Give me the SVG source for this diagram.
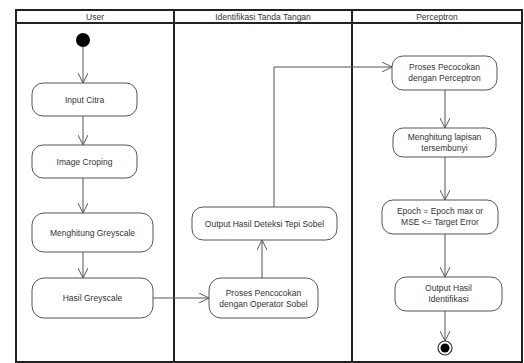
<svg xmlns="http://www.w3.org/2000/svg" width="524" height="363" viewBox="0 0 524 363">
<style>
.lane{fill:none;stroke:#222;stroke-width:2}
.hdr{font-family:"Liberation Sans",Arial,sans-serif;font-size:8.5px;fill:#333;text-anchor:middle}
.box{fill:#fff;stroke:#555;stroke-width:1}
.t{font-family:"Liberation Sans",Arial,sans-serif;font-size:8.5px;fill:#333;text-anchor:middle}
.c{fill:none;stroke:#555;stroke-width:1}
</style>
<defs>
<marker id="arr" viewBox="0 0 10 10" refX="10" refY="5" markerWidth="10" markerHeight="10" markerUnits="userSpaceOnUse" orient="auto">
<path d="M0,0 L10,5 L0,10" fill="none" stroke="#555" stroke-width="1"/>
</marker>
</defs>
<rect width="524" height="363" fill="#fff"/>
<g id="swimlanes">
<rect class="lane" x="16" y="10" width="506" height="352"/>
<line class="lane" x1="16" y1="23" x2="522" y2="23"/>
<line class="lane" x1="174" y1="10" x2="174" y2="362"/>
<line class="lane" x1="352" y1="10" x2="352" y2="362"/>
<text class="hdr" x="95" y="19.5">User</text>
<text class="hdr" x="263" y="19.5">Identifikasi Tanda Tangan</text>
<text class="hdr" x="437" y="19.5">Perceptron</text>
</g>
<g id="connectors">
<line class="c" x1="83" y1="47" x2="83" y2="83" marker-end="url(#arr)"/>
<line class="c" x1="83" y1="116" x2="83" y2="145" marker-end="url(#arr)"/>
<line class="c" x1="83" y1="178" x2="83" y2="213" marker-end="url(#arr)"/>
<line class="c" x1="83" y1="252" x2="83" y2="278" marker-end="url(#arr)"/>
<line class="c" x1="153" y1="298" x2="209" y2="298" marker-end="url(#arr)"/>
<line class="c" x1="262" y1="278" x2="262" y2="240" marker-end="url(#arr)"/>
<polyline class="c" points="274,207 274,67 392,67" marker-end="url(#arr)"/>
<line class="c" x1="445" y1="90" x2="445" y2="128" marker-end="url(#arr)"/>
<line class="c" x1="445" y1="157" x2="445" y2="200" marker-end="url(#arr)"/>
<line class="c" x1="445" y1="234" x2="445" y2="277" marker-end="url(#arr)"/>
<line class="c" x1="445" y1="311" x2="445" y2="341" marker-end="url(#arr)"/>
</g>
<g id="start"><circle cx="83" cy="40" r="7" fill="#000"/></g>
<g id="input-citra"><rect class="box" x="32" y="83" width="105" height="33" rx="11"/><text class="t" x="84.5" y="102.5">Input Citra</text></g>
<g id="image-croping"><rect class="box" x="32" y="145" width="105" height="33" rx="11"/><text class="t" x="84.5" y="164.5">Image Croping</text></g>
<g id="menghitung-greyscale"><rect class="box" x="32" y="213" width="121" height="39" rx="12"/><text class="t" x="92.5" y="235.5">Menghitung Greyscale</text></g>
<g id="hasil-greyscale"><rect class="box" x="32" y="278" width="121" height="40" rx="12"/><text class="t" x="92.5" y="301">Hasil Greyscale</text></g>
<g id="proses-sobel"><rect class="box" x="209" y="278" width="109" height="40" rx="12"/><text class="t" x="263.5" y="295.5">Proses Pencocokan</text><text class="t" x="263.5" y="306.5">dengan Operator Sobel</text></g>
<g id="output-sobel"><rect class="box" x="192" y="207" width="145" height="33" rx="11"/><text class="t" x="264.5" y="226.5">Output Hasil Deteksi Tepi Sobel</text></g>
<g id="proses-perceptron"><rect class="box" x="392" y="56" width="105" height="34" rx="11"/><text class="t" x="444.5" y="70">Proses Pecocokan</text><text class="t" x="444.5" y="81">dengan Perceptron</text></g>
<g id="menghitung-lapisan"><rect class="box" x="393" y="128" width="103" height="29" rx="10"/><text class="t" x="444.5" y="140">Menghitung lapisan</text><text class="t" x="444.5" y="151">tersembunyi</text></g>
<g id="epoch"><rect class="box" x="382" y="200" width="116" height="34" rx="11"/><text class="t" x="440" y="214">Epoch = Epoch max or</text><text class="t" x="440" y="225">MSE &lt;= Target Error</text></g>
<g id="output-identifikasi"><rect class="box" x="395" y="277" width="107" height="34" rx="11"/><text class="t" x="448.5" y="291">Output Hasil</text><text class="t" x="448.5" y="302">Identifikasi</text></g>
<g id="end"><circle cx="445" cy="348" r="7" fill="#fff" stroke="#333" stroke-width="1.2"/><circle cx="445" cy="348" r="4.5" fill="#000"/></g>
</svg>
